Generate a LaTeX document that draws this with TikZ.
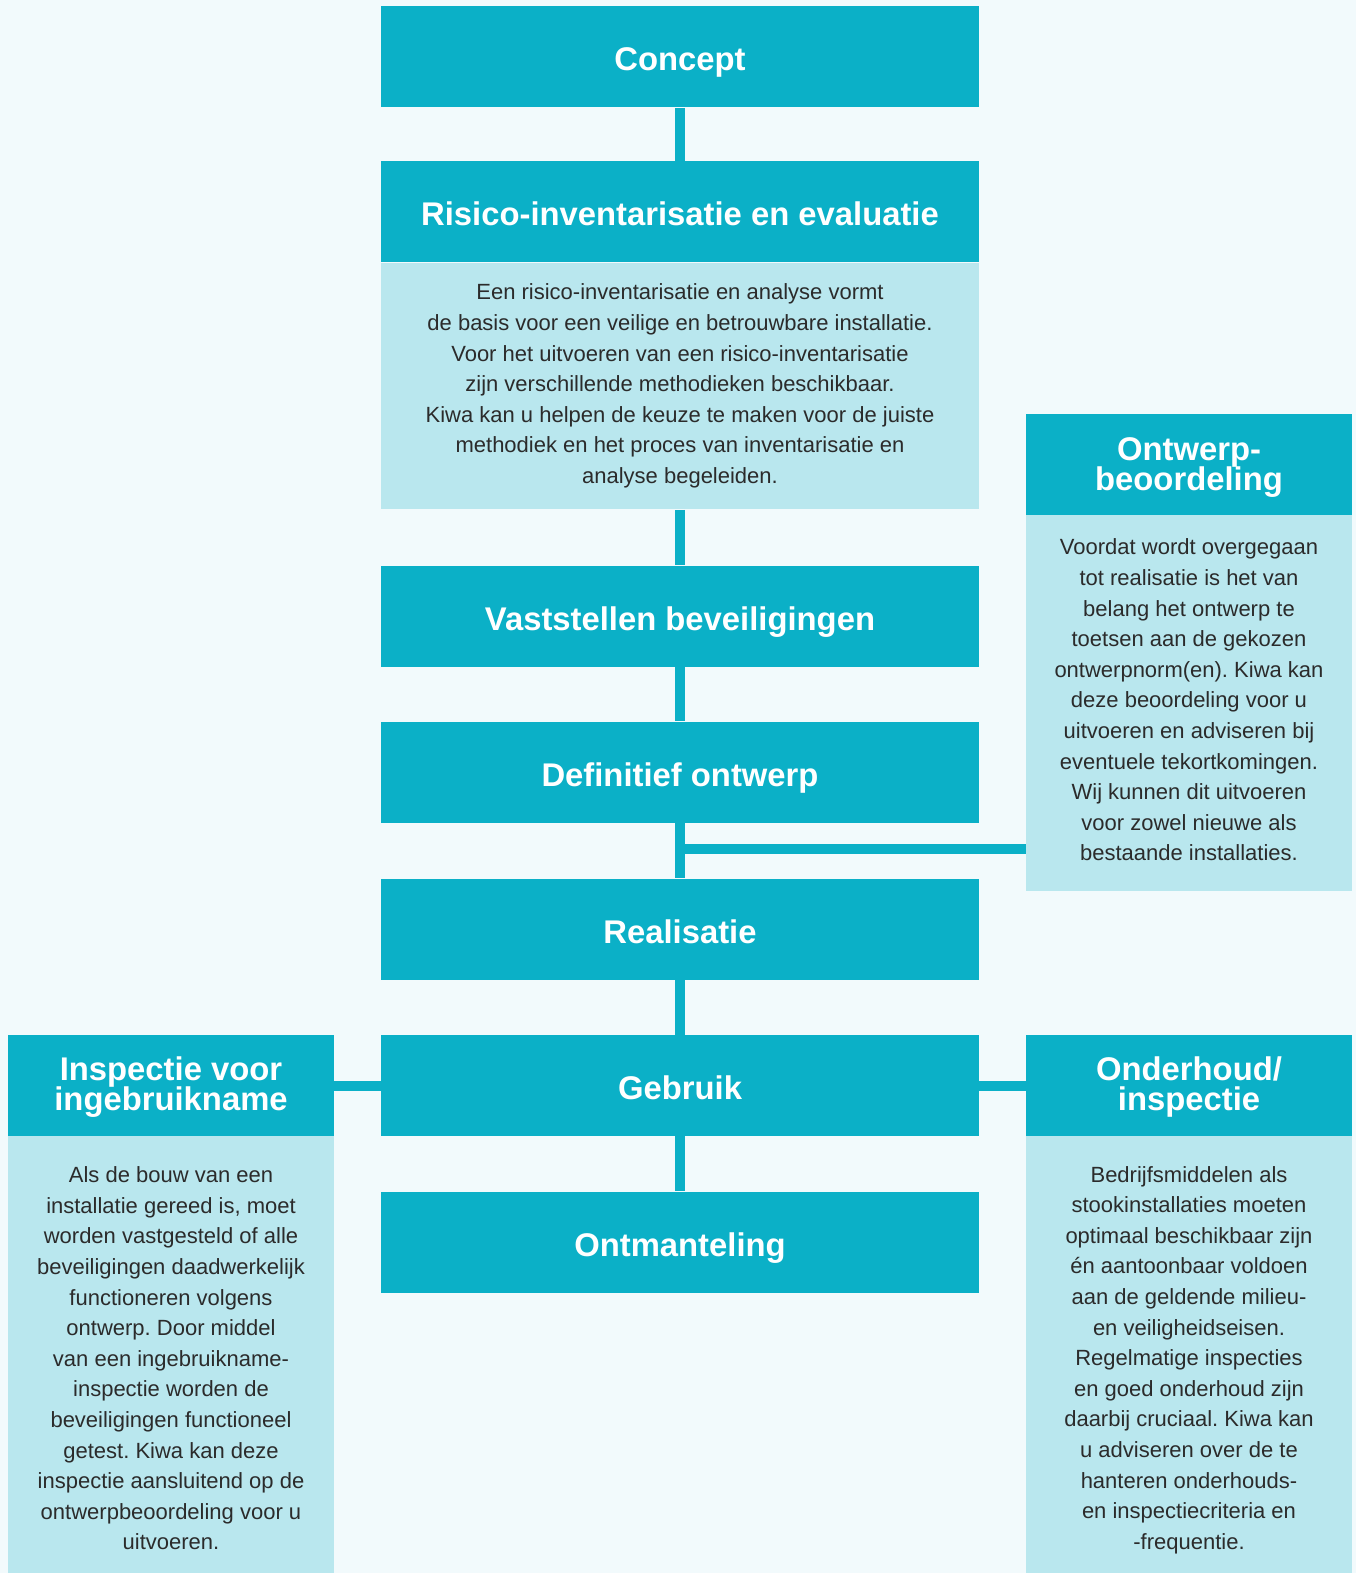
\documentclass[tikz,border=0pt]{standalone}
\usepackage{fontspec}
\setmainfont{Liberation Sans}
\lineskiplimit=-20pt\relax
\definecolor{teal}{HTML}{0BB0C7}
\definecolor{lightb}{HTML}{B9E7EE}
\definecolor{bgc}{HTML}{F2FAFC}
\definecolor{txt}{HTML}{2B2B2B}
\tikzset{
  mainbox/.style={fill=teal, text=white, font=\fontsize{16.4}{15}\bfseries\selectfont, align=center, inner sep=0pt, minimum width=299pt, minimum height=50.5pt, text height=14pt, text depth=0pt},
  sidehead/.style={mainbox, minimum width=163pt, text height=24.5pt, text depth=0pt},
  bodybox/.style={fill=lightb, inner sep=0pt},
  bodytext/.style={text=txt, font=\fontsize{11}{15.3}\selectfont\frenchspacing, align=center, inner sep=0pt},
  conn/.style={draw=teal, line width=5pt}
}
\begin{document}
\begin{tikzpicture}[x=0.5pt,y=-0.5pt]
\fill[bgc] (0,0) rectangle (1356,1573);
\useasboundingbox (0,0) rectangle (1356,1573);

% main column
\node[mainbox] (concept) at (680,57) {Concept};
\node[mainbox] (risk) at (680,212) {Risico-inventarisatie en evaluatie};
\node[bodybox, minimum width=299pt, minimum height=123.4pt] (riskb) at (680,386) {};
\node[bodytext] (riskt) at (680,386)
  {Een risico-inventarisatie en analyse vormt\\
   de basis voor een veilige en betrouwbare installatie.\\
   Voor het uitvoeren van een risico-inventarisatie\\
   zijn verschillende methodieken beschikbaar.\\
   Kiwa kan u helpen de keuze te maken voor de juiste\\
   methodiek en het proces van inventarisatie en\\
   analyse begeleiden.};
\node[mainbox] (vast) at (680,616) {Vaststellen beveiligingen};
\node[mainbox] (defi) at (680,772) {Definitief ontwerp};
\node[mainbox] (real) at (680,929) {Realisatie};
\node[mainbox] (geb) at (680,1085.5) {Gebruik};
\node[mainbox] (ontm) at (680,1242) {Ontmanteling};

% right upper side
\node[sidehead, text height=26pt] (ontw) at (1189,464) {Ontwerp-\\beoordeling};
\node[bodybox, minimum width=163pt, minimum height=188.3pt] (ontwb) at (1189,702.8) {};
\node[bodytext] (ontwt) at (1189,700)
  {Voordat wordt overgegaan\\
   tot realisatie is het van\\
   belang het ontwerp te\\
   toetsen aan de gekozen\\
   ontwerpnorm(en). Kiwa kan\\
   deze beoordeling voor u\\
   uitvoeren en adviseren bij\\
   eventuele tekortkomingen.\\
   Wij kunnen dit uitvoeren\\
   voor zowel nieuwe als\\
   bestaande installaties.};

% left lower side
\node[sidehead] (insp) at (171,1085.5) {Inspectie voor\\ingebruikname};
\node[bodybox, minimum width=163pt, minimum height=218.5pt] (inspb) at (171,1354.5) {};
\node[bodytext] (inspt) at (171,1358.5)
  {Als de bouw van een\\
   installatie gereed is, moet\\
   worden vastgesteld of alle\\
   beveiligingen daadwerkelijk\\
   functioneren volgens\\
   ontwerp. Door middel\\
   van een ingebruikname-\\
   inspectie worden de\\
   beveiligingen functioneel\\
   getest. Kiwa kan deze\\
   inspectie aansluitend op de\\
   ontwerpbeoordeling voor u\\
   uitvoeren.};

% right lower side
\node[sidehead] (onder) at (1189,1085.5) {Onderhoud/\\inspectie};
\node[bodybox, minimum width=163pt, minimum height=218.5pt] (onderb) at (1189,1354.5) {};
\node[bodytext] (ondert) at (1189,1360)
  {Bedrijfsmiddelen als\\
   stookinstallaties moeten\\
   optimaal beschikbaar zijn\\
   én aantoonbaar voldoen\\
   aan de geldende milieu-\\
   en veiligheidseisen.\\
   Regelmatige inspecties\\
   en goed onderhoud zijn\\
   daarbij cruciaal. Kiwa kan\\
   u adviseren over de te\\
   hanteren onderhouds-\\
   en inspectiecriteria en\\
   -frequentie.};

% connectors
\draw[conn] (concept.south) -- (risk.north);
\draw[conn] (riskb.south) -- (vast.north);
\draw[conn] (vast.south) -- (defi.north);
\draw[conn] (defi.south) -- (real.north);
\draw[conn] (real.south) -- (geb.north);
\draw[conn] (geb.south) -- (ontm.north);
\coordinate (j) at (680,848.5);
\draw[conn] (j) -- (j -| ontwb.west);
\draw[conn] (geb.west) -- (insp.east);
\draw[conn] (geb.east) -- (onder.west);
\end{tikzpicture}
\end{document}
